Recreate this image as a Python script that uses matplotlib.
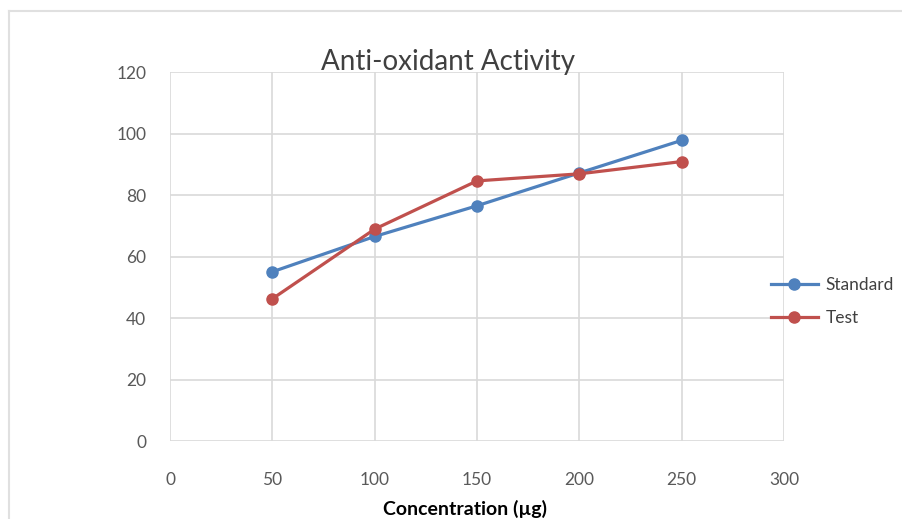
import matplotlib.pyplot as plt
from matplotlib.lines import Line2D

# data
conc = [50, 100, 150, 200, 250]
standard = [55.1, 66.6, 76.6, 87.3, 97.9]
test = [46.3, 69.0, 84.7, 87.0, 91.0]

x_ticks = [0, 50, 100, 150, 200, 250, 300]
y_ticks = [0, 20, 40, 60, 80, 100, 120]

plt.rcParams["font.family"] = ["Lato", "DejaVu Sans"]

fig = plt.figure(figsize=(9.02, 5.19), dpi=100)
ax = fig.add_axes([170 / 902, 78 / 519, 614 / 902, 368.5 / 519])

ax.plot(conc, standard, color="#4F81BD", lw=2.3, marker="o", ms=8, label="Standard", zorder=3)
ax.plot(conc, test, color="#C0504D", lw=2.3, marker="o", ms=8, label="Test", zorder=3)

ax.set_xlim(0, 300)
ax.set_ylim(0, 120)
ax.set_xticks(x_ticks)
ax.set_yticks(y_ticks)
ax.grid(True, color="#d9d9d9", lw=1.2)
ax.set_axisbelow(True)
for s in ax.spines.values():
    s.set_visible(False)
ax.tick_params(length=0, labelsize=12.5, labelcolor="#595959")
ax.tick_params(axis="x", pad=22)
ax.tick_params(axis="y", pad=17)

fig.text(465 / 902, 1 / 519, "Concentration (\u00b5g)", ha="center", va="bottom",
         fontsize=14, fontweight="bold")
fig.text(0.497, 0.880, "Anti-oxidant Activity", ha="center", va="center",
         fontsize=20, color="#404040")

ax.legend(loc="center left", bbox_to_anchor=((771 - 170) / 614, 0.379), frameon=False,
          borderaxespad=0, borderpad=0, fontsize=12.5, labelcolor="#404040",
          handlelength=2.7, handletextpad=0.45, labelspacing=1.0)

# outer chart border (top and left)
fig.add_artist(Line2D([9 / 902, 9 / 902], [0, 1 - 11 / 519], transform=fig.transFigure,
                      color="#e0e0e0", lw=1.5))
fig.add_artist(Line2D([9 / 902, 1], [1 - 11 / 519, 1 - 11 / 519], transform=fig.transFigure,
                      color="#e0e0e0", lw=1.5))

fig.savefig("out.png", dpi=100)
